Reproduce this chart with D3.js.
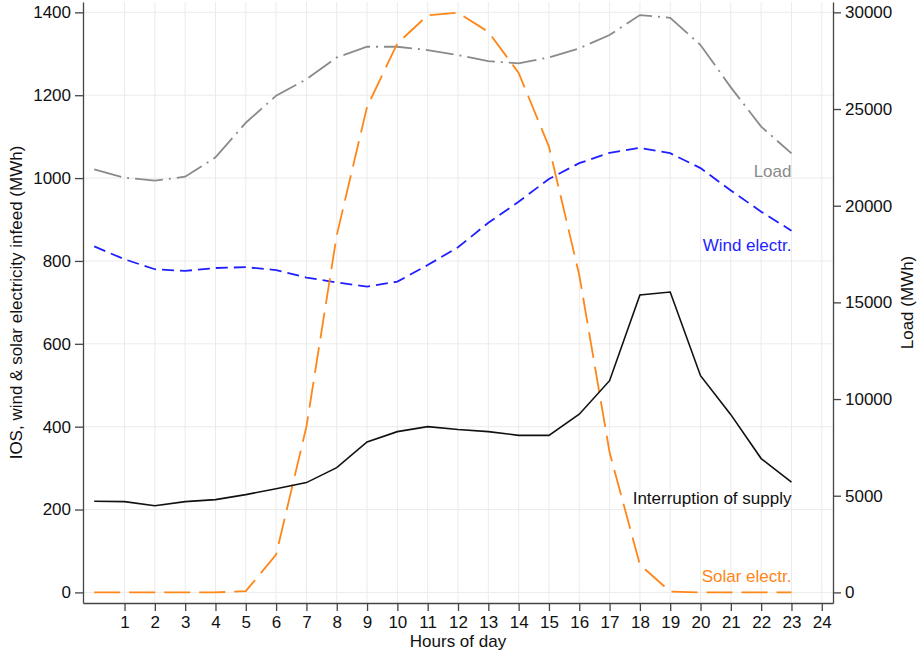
<!DOCTYPE html>
<html>
<head>
<meta charset="utf-8">
<script src="https://cdn.jsdelivr.net/npm/d3@7"></script>
<style>
  html, body { margin: 0; padding: 0; background: #fff; }
  svg { display: block; font-family: "Liberation Sans", Arial, sans-serif; }
</style>
</head>
<body>
<svg id="chart" width="919" height="654"></svg>
<script>
// Hours of the day
const hours = d3.range(0, 24);
const hourTicks = d3.range(1, 25);

// Interruption of supply (MWh, left axis)
const interruption = [220, 219, 209, 219, 224, 236, 250, 265, 301, 363, 388, 400, 393, 388, 379, 379, 430, 511, 718, 725, 523, 429, 323, 266];
// Wind electricity infeed (MWh, left axis)
const wind = [835, 804, 780, 776, 783, 785, 778, 760, 748, 738, 750, 790, 833, 892, 943, 998, 1036, 1061, 1073, 1060, 1024, 970, 919, 873];
// Solar electricity infeed (MWh, left axis)
const solar = [0, 0, 0, 0, 0, 3, 91, 400, 862, 1172, 1325, 1393, 1399, 1353, 1254, 1076, 766, 338, 67, 2, 0, 0, 0, 0];
// Load (MWh, right axis)
const load = [21880, 21450, 21300, 21500, 22500, 24290, 25690, 26540, 27670, 28220, 28220, 28050, 27790, 27480, 27360, 27670, 28140, 28830, 29860, 29720, 28310, 26120, 24090, 22710];

const leftTicks = [0, 200, 400, 600, 800, 1000, 1200, 1400];
const rightTicks = [0, 5000, 10000, 15000, 20000, 25000, 30000];

const svg = d3.select("#chart");
const plot = { left: 83, right: 833, top: 2, bottom: 603 };
const fontSize = 17;

const x = d3.scaleLinear().domain([-0.37, 24.37]).range([plot.left, plot.right]);
const yL = d3.scaleLinear().domain([-25.6, 1425]).range([plot.bottom, plot.top]);
const yR = d3.scaleLinear().domain([-25.6 * 30000 / 1400, 1425 * 30000 / 1400]).range([plot.bottom, plot.top]);

// Grid
const grid = svg.append("g").attr("stroke", "#ebebeb").attr("stroke-width", 1);
grid.selectAll("line.v").data(hourTicks).join("line")
  .attr("x1", d => x(d)).attr("x2", d => x(d))
  .attr("y1", plot.top).attr("y2", plot.bottom);
grid.selectAll("line.h").data(leftTicks).join("line")
  .attr("x1", plot.left).attr("x2", plot.right)
  .attr("y1", d => yL(d)).attr("y2", d => yL(d));

// Axes
const axisColor = "#444";
const fmt = d3.format("d");
function styleAxis(g) {
  g.select(".domain").attr("stroke", axisColor).attr("stroke-width", 1.3);
  g.selectAll(".tick line").attr("stroke", axisColor).attr("stroke-width", 1.3);
  g.selectAll(".tick text").attr("fill", "#111").attr("font-size", fontSize)
    .attr("font-family", "'Liberation Sans', Arial, sans-serif");
}
svg.append("g").attr("transform", `translate(${plot.left},0)`)
  .call(d3.axisLeft(yL).tickValues(leftTicks).tickFormat(fmt).tickSize(8).tickSizeOuter(0).tickPadding(4))
  .call(styleAxis);
svg.append("g").attr("transform", `translate(${plot.right},0)`)
  .call(d3.axisRight(yR).tickValues(rightTicks).tickFormat(fmt).tickSize(8).tickSizeOuter(0).tickPadding(4))
  .call(styleAxis);
svg.append("g").attr("transform", `translate(0,${plot.bottom})`)
  .call(d3.axisBottom(x).tickValues(hourTicks).tickFormat(fmt).tickSize(8).tickSizeOuter(0).tickPadding(5))
  .call(styleAxis);

// Axis titles
svg.append("text").attr("x", (plot.left + plot.right) / 2).attr("y", 647)
  .attr("text-anchor", "middle").attr("font-size", fontSize).attr("fill", "#111").text("Hours of day");
svg.append("text").attr("transform", `translate(22,${(plot.top + plot.bottom) / 2}) rotate(-90)`)
  .attr("text-anchor", "middle").attr("font-size", fontSize).attr("fill", "#111")
  .text("IOS, wind & solar electricity infeed (MWh)");
svg.append("text").attr("transform", `translate(913,${(plot.top + plot.bottom) / 2}) rotate(-90)`)
  .attr("text-anchor", "middle").attr("font-size", fontSize).attr("fill", "#111")
  .text("Load (MWh)");

// Series
const lineL = d3.line().x((d, i) => x(hours[i])).y(d => yL(d));
const lineR = d3.line().x((d, i) => x(hours[i])).y(d => yR(d));

svg.append("path").datum(load).attr("d", lineR)
  .attr("fill", "none").attr("stroke", "#8a8a8a").attr("stroke-width", 1.8)
  .attr("stroke-dasharray", "28,6,2,6");
svg.append("path").datum(wind).attr("d", lineL)
  .attr("fill", "none").attr("stroke", "#1f1fff").attr("stroke-width", 1.8)
  .attr("stroke-dasharray", "12,6");
svg.append("path").datum(solar).attr("d", lineL)
  .attr("fill", "none").attr("stroke", "#ff8618").attr("stroke-width", 1.8)
  .attr("stroke-dasharray", "26,9");
svg.append("path").datum(interruption).attr("d", lineL)
  .attr("fill", "none").attr("stroke", "#111").attr("stroke-width", 1.6);

// Series labels at the end of each line
const last = hours.length - 1;
const labels = [
  { text: "Load", color: "#8a8a8a", y: yR(load[last]) + 24 },
  { text: "Wind electr.", color: "#1f1fff", y: yL(wind[last]) + 20 },
  { text: "Interruption of supply", color: "#111", y: yL(interruption[last]) + 22 },
  { text: "Solar electr.", color: "#ff8618", y: yL(solar[last]) - 10 }
];
svg.selectAll("text.series").data(labels).join("text")
  .attr("class", "series")
  .attr("x", x(hours[last])).attr("y", d => d.y)
  .attr("text-anchor", "end").attr("font-size", fontSize)
  .attr("fill", d => d.color).text(d => d.text);
</script>
</body>
</html>
